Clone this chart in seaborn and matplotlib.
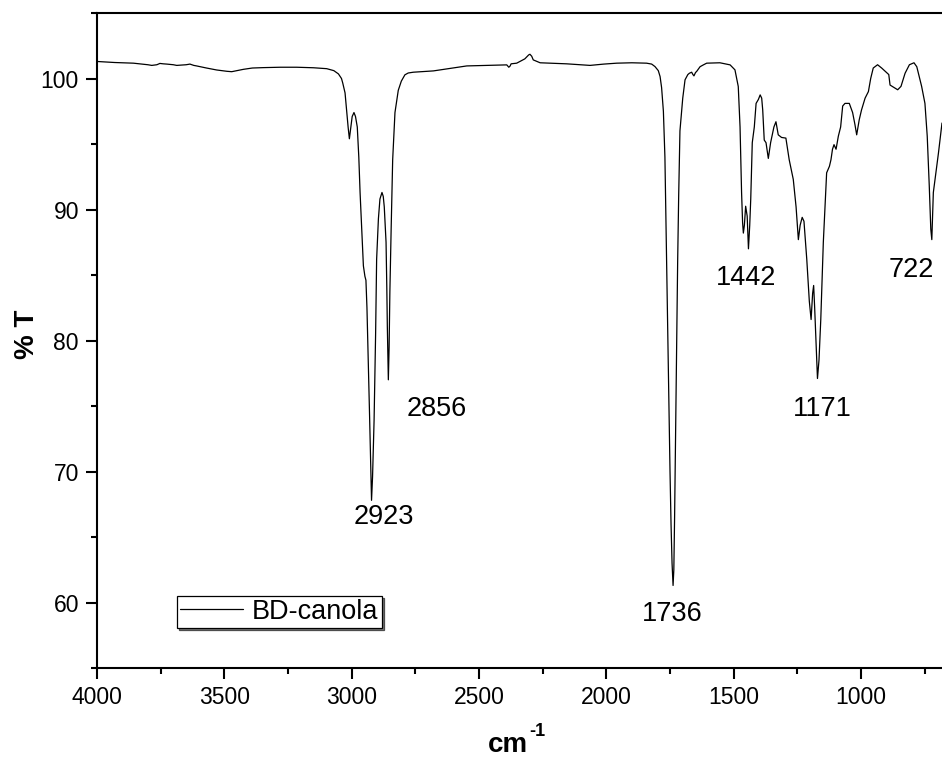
import matplotlib
matplotlib.use("Agg")
import matplotlib.pyplot as plt
from matplotlib.ticker import MultipleLocator
import seaborn as sns
import pandas as pd

# ---- data ----
wavenumber = [
    4000, 3930, 3857, 3800, 3785, 3765, 3753, 3740, 3726, 3700, 3687, 3650, 3635, 3620, 3609,
    3570, 3530, 3490, 3471, 3450, 3425, 3390, 3347, 3280, 3216, 3150, 3098, 3070, 3052, 3040,
    3035, 3026, 3020, 3014, 3009, 3004, 2998, 2991, 2985, 2978, 2972, 2967, 2960, 2954, 2948,
    2944, 2940, 2935, 2930, 2925, 2922, 2918, 2912, 2906, 2902, 2895, 2889, 2881, 2876, 2872,
    2865, 2862, 2860, 2856, 2853, 2850, 2845, 2839, 2830, 2817, 2805, 2791, 2778, 2758, 2679,
    2620, 2548, 2470, 2391, 2383, 2378, 2374, 2352, 2320, 2305, 2300, 2293, 2287, 2260, 2200,
    2156, 2100, 2064, 2010, 1959, 1900, 1842, 1822, 1809, 1796, 1789, 1783, 1776, 1770, 1765,
    1760, 1755, 1750, 1746, 1742, 1738, 1735, 1732, 1728, 1724, 1720, 1716, 1711, 1700, 1691,
    1680, 1674, 1665, 1660, 1656, 1650, 1645, 1632, 1619, 1606, 1554, 1514, 1495, 1482, 1475,
    1469, 1465, 1462, 1458, 1453, 1447, 1442, 1437, 1433, 1427, 1419, 1412, 1403, 1396, 1390,
    1386, 1380, 1373, 1364, 1355, 1342, 1334, 1325, 1312, 1295, 1282, 1266, 1255, 1246, 1239,
    1231, 1224, 1213, 1207, 1203, 1196, 1190, 1186, 1182, 1178, 1171, 1165, 1158, 1148, 1135,
    1124, 1118, 1112, 1106, 1098, 1089, 1080, 1072, 1063, 1046, 1033, 1024, 1017, 1007, 998,
    984, 971, 962, 952, 935, 919, 902, 891, 886, 867, 856, 843, 827, 810, 792,
    781, 762, 749, 740, 732, 726, 722, 719, 716, 708, 696, 682,
]
transmittance = [
    101.3, 101.22, 101.17, 101.05, 101.0, 101.05, 101.15, 101.12, 101.1, 101.05, 101.0, 101.05, 101.1, 101.0, 100.96,
    100.8, 100.65, 100.55, 100.52, 100.6, 100.7, 100.8, 100.83, 100.86, 100.86, 100.82, 100.75, 100.6, 100.35, 100.0,
    99.65, 98.9, 97.6, 96.3, 95.4, 96.2, 97.1, 97.4, 97.1, 96.3, 94.0, 91.3, 88.3, 85.7, 84.9,
    84.6, 82.5, 78.6, 74.5, 70.4, 67.8, 69.6, 73.9, 80.5, 86.2, 89.3, 90.8, 91.3, 91.0, 90.2,
    87.5, 84.0, 81.1, 77.0, 79.5, 83.7, 88.5, 93.8, 97.4, 99.1, 99.8, 100.28, 100.42, 100.48, 100.58,
    100.75, 100.96, 101.0, 101.04, 100.86, 100.95, 101.12, 101.17, 101.5, 101.8, 101.85, 101.7, 101.42, 101.2, 101.15,
    101.12, 101.05, 101.0, 101.1, 101.17, 101.2, 101.17, 101.1, 100.91, 100.6, 100.15, 99.3, 97.5, 94.0, 88.0,
    82.0, 75.5, 70.0, 66.0, 63.0, 61.3, 62.5, 66.5, 73.0, 80.0, 86.0, 91.0, 96.0, 98.5, 99.9,
    100.3, 100.4, 100.48, 100.3, 100.2, 100.45, 100.55, 100.9, 101.04, 101.17, 101.2, 101.04, 100.66, 99.39, 96.3,
    91.3, 89.0, 88.2, 88.8, 90.25, 89.5, 87.0, 88.8, 90.8, 95.1, 96.3, 98.1, 98.4, 98.75, 98.5,
    97.6, 95.3, 95.1, 93.9, 95.1, 96.3, 96.7, 95.7, 95.5, 95.45, 93.8, 92.3, 90.2, 87.7, 88.8,
    89.4, 89.1, 86.2, 84.2, 83.0, 81.6, 83.6, 84.2, 82.5, 80.5, 77.1, 78.5, 81.6, 87.5, 92.8,
    93.3, 93.8, 94.6, 94.95, 94.6, 95.6, 96.3, 97.9, 98.1, 98.1, 97.4, 96.5, 95.7, 96.85, 97.6,
    98.5, 99.0, 100.0, 100.8, 101.05, 100.8, 100.5, 100.3, 99.5, 99.27, 99.14, 99.4, 100.4, 101.05, 101.2,
    100.9, 99.4, 98.1, 95.6, 91.8, 88.5, 87.7, 89.5, 91.3, 92.5, 94.3, 96.6,
]
series_name = "BD-canola"

peak_labels = ["2923", "2856", "1736", "1442", "1171", "722"]
peak_label_x = [2873, 2665, 1742, 1451, 1152, 803]
peak_label_y = [66.5, 74.8, 59.15, 84.8, 74.8, 85.35]

x_ticks = [4000, 3500, 3000, 2500, 2000, 1500, 1000]
y_ticks = [60, 70, 80, 90, 100]

x_label_main = "cm"
x_label_sup = "-1"
y_label = "% T"

# ---- style ----
sns.set_style("ticks")
plt.rcParams["font.family"] = ["Liberation Sans", "DejaVu Sans"]
plt.rcParams["text.color"] = "black"
plt.rcParams["axes.labelcolor"] = "black"
plt.rcParams["xtick.color"] = "black"
plt.rcParams["ytick.color"] = "black"

df = pd.DataFrame({"wn": wavenumber, "T": transmittance, "name": series_name})

fig = plt.figure(figsize=(9.42, 7.59), dpi=100)
ax = fig.add_axes([97 / 942, 1 - 668 / 759, (942 - 97) / 942, (668 - 13) / 759])

sns.lineplot(data=df, x="wn", y="T", sort=False, estimator=None, color="black",
             linewidth=0.9, label=series_name, ax=ax)

ax.set_xlim(4000, 682)
ax.set_ylim(55, 105)
ax.set_xticks(x_ticks)
ax.set_yticks(y_ticks)
ax.xaxis.set_minor_locator(MultipleLocator(250))
ax.yaxis.set_minor_locator(MultipleLocator(5))

for side in ["left", "bottom", "top"]:
    ax.spines[side].set_visible(True)
    ax.spines[side].set_linewidth(1.5)
    ax.spines[side].set_color("black")
ax.spines["right"].set_visible(False)

ax.tick_params(axis="both", which="major", direction="out", length=8, width=1.5,
               labelsize=16.5, color="black", labelcolor="black", pad=5,
               top=False, right=False)
ax.tick_params(axis="both", which="minor", direction="out", length=4.5, width=1.5,
               color="black", top=False, right=False)

ax.set_xlabel("")
ax.set_ylabel(y_label, fontsize=20, fontweight="bold", color="black")
ax.yaxis.set_label_coords(-0.068, 0.51)

# x label "cm" with superscript "-1" (hyphen as in the reference)
fig.text(528 / 942, 1 - 752 / 759, x_label_main, ha="right", va="baseline",
         fontsize=20, fontweight="bold", color="black")
fig.text(529 / 942, 1 - 736 / 759, x_label_sup, ha="left", va="baseline",
         fontsize=13, fontweight="bold", color="black")

for lab, lx, ly in zip(peak_labels, peak_label_x, peak_label_y):
    ax.text(lx, ly, lab, ha="center", va="center", fontsize=19.5, color="black")

leg = ax.legend(loc="lower left", bbox_to_anchor=((177 - 97) / 845, (668 - 628) / 655),
                borderaxespad=0, fontsize=19.5, frameon=True, fancybox=False,
                shadow={"ox": 1.5, "oy": -1.5, "facecolor": "#777777", "alpha": 1.0},
                handlelength=2.3, handletextpad=0.35, borderpad=0.12, labelcolor="black")
leg.get_frame().set_edgecolor("black")
leg.get_frame().set_linewidth(0.9)
leg.get_frame().set_alpha(1)

fig.savefig("out.png", dpi=100)
